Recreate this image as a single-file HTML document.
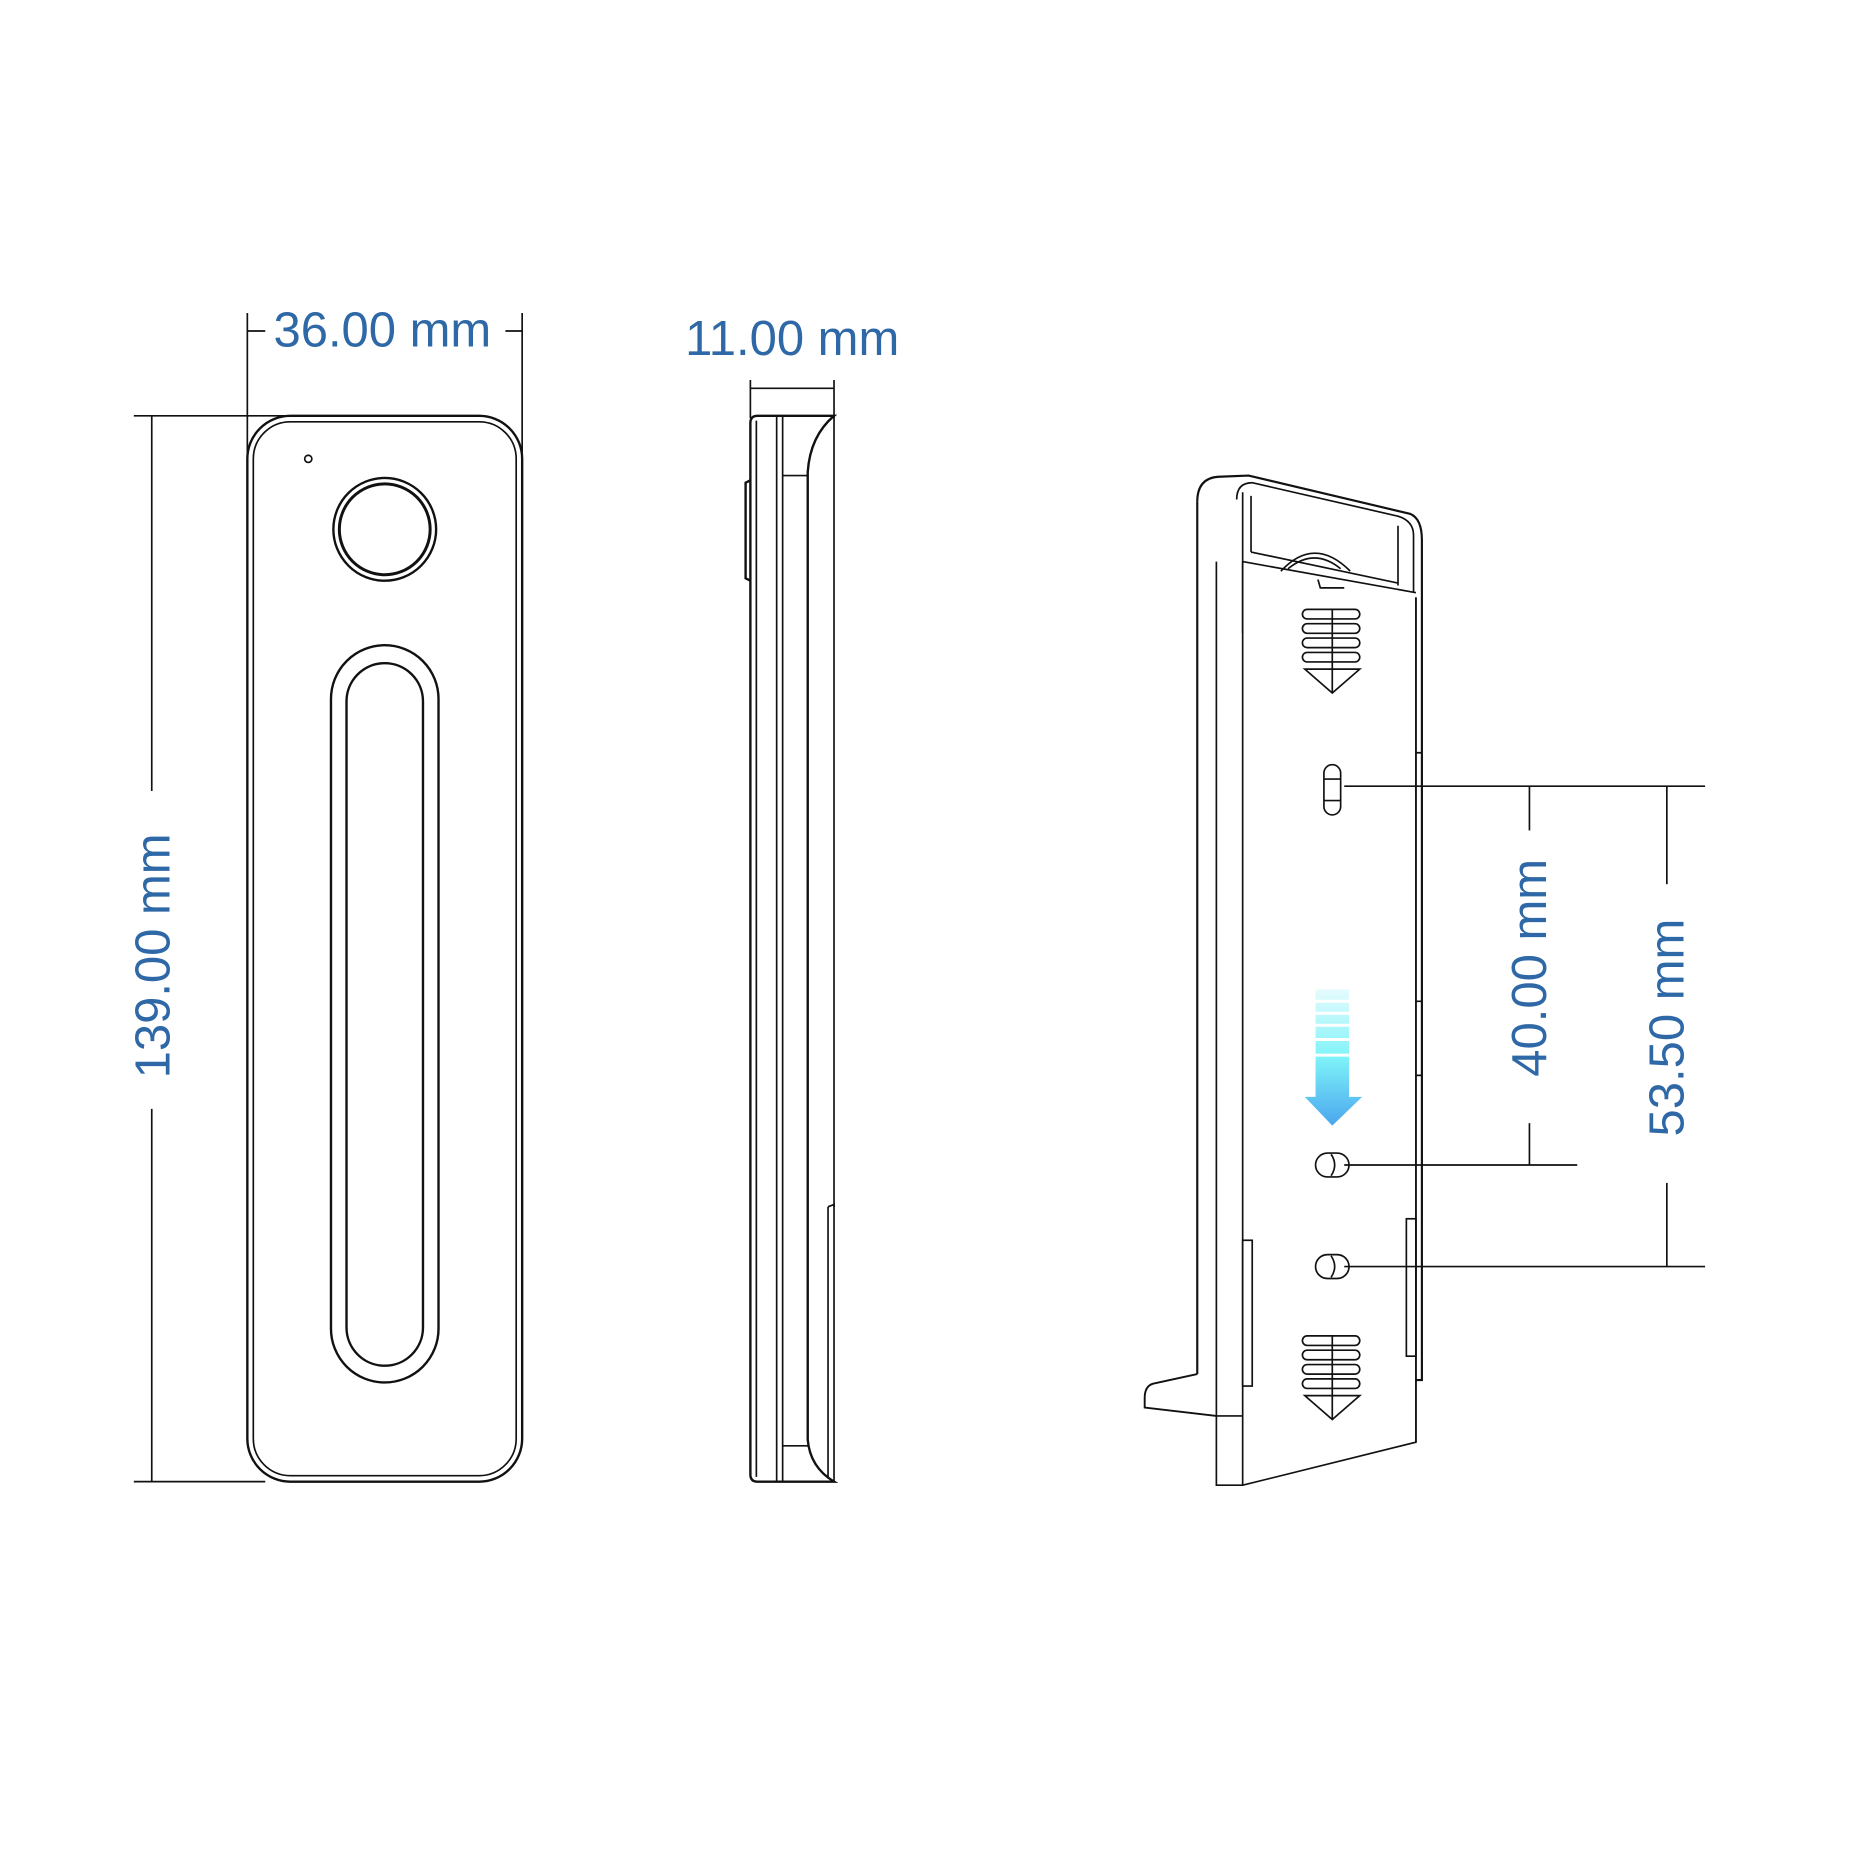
<!DOCTYPE html>
<html><head><meta charset="utf-8"><style>
html,body{margin:0;padding:0;background:#fff;}
svg{display:block;}
text{font-family:"Liberation Sans",Arial,sans-serif;fill:#2f68a6;font-size:41px;}
</style></head><body>
<svg width="1864" height="1864" viewBox="0 0 1560 1560" xmlns="http://www.w3.org/2000/svg">
<defs>
<linearGradient id="g" x1="0" y1="0" x2="0" y2="1">
<stop offset="0" stop-color="#e6fbfd"/><stop offset="0.5" stop-color="#7ef3f8"/><stop offset="1" stop-color="#4aa6ee"/>
</linearGradient>
</defs>
<g fill="none" stroke="#111" stroke-width="1.4">
<!-- left view dims -->
<line x1="207" y1="262" x2="207" y2="385"/>
<line x1="437" y1="262" x2="437" y2="385"/>
<line x1="207" y1="277" x2="222" y2="277"/>
<line x1="423" y1="277" x2="437" y2="277"/>
<line x1="112" y1="348" x2="240" y2="348"/>
<line x1="112" y1="1240" x2="222" y2="1240"/>
<line x1="127" y1="348" x2="127" y2="662"/>
<line x1="127" y1="928" x2="127" y2="1240"/>
<!-- left body -->
<rect x="207" y="348" width="230" height="892" rx="36" stroke-width="2"/>
<rect x="212" y="353" width="220" height="882" rx="31"/>
<circle cx="258" cy="384" r="3"/>
<circle cx="322" cy="443" r="43" stroke-width="2"/>
<circle cx="322" cy="443" r="38" stroke-width="2.5"/>
<rect x="277" y="540" width="90" height="617" rx="45" stroke-width="2"/>
<rect x="290" y="555" width="64" height="588" rx="32" stroke-width="2"/>
<!-- side view -->
<line x1="628" y1="318" x2="628" y2="350"/>
<line x1="698" y1="318" x2="698" y2="350"/>
<line x1="628" y1="325" x2="698" y2="325"/>
<path d="M634 348 L698 348 Q678 365 676 395 L676 1205 Q678 1228 698 1240 L634 1240 Q628 1240 628 1234 L628 354 Q628 348 634 348 Z" stroke-width="2"/>
<line x1="633" y1="352" x2="633" y2="1236"/>
<line x1="650" y1="348" x2="650" y2="1240"/>
<line x1="655" y1="348" x2="655" y2="1240"/>
<line x1="655" y1="398" x2="676" y2="398"/>
<line x1="655" y1="1210" x2="676" y2="1210"/>
<line x1="698" y1="348" x2="698" y2="1010"/>
<path d="M693 1010 L698 1008 L698 1240"/>
<line x1="693" y1="1010" x2="693" y2="1236"/>
<path d="M628 402 L624 404 L624 484 L628 486" stroke-width="2"/>
<!-- right view -->
<path d="M1002 420 Q1002 400 1020 399 L1045 398 L1180 430 Q1190 434 1190 452 L1190 1155 L1185 1155" stroke-width="1.8"/>
<line x1="1002" y1="420" x2="1002" y2="1150" stroke-width="1.8"/>
<path d="M1002 1150 L965 1158 Q958 1160 958 1170 L958 1178 L1018 1185" stroke-width="1.6"/>
<path d="M1035 418 Q1035 404 1048 404 L1170 432 Q1183 436 1183 448 L1183 495"/>
<line x1="1040" y1="412" x2="1040" y2="530"/>
<line x1="1047" y1="415" x2="1047" y2="462"/>
<line x1="1047" y1="462" x2="1170" y2="488"/>
<line x1="1040" y1="470" x2="1185" y2="496"/>
<line x1="1170" y1="440" x2="1170" y2="490"/>
<path d="M1018 470 L1018 1243 L1040 1243 L1185 1207 L1185 500"/>
<line x1="1040" y1="470" x2="1040" y2="1243"/>
<line x1="1185" y1="500" x2="1185" y2="1207"/>
<path d="M1185 630 L1190 630 M1185 838 L1190 838 M1185 900 L1190 900"/>
<rect x="1040" y="1038" width="8" height="122"/>
<rect x="1177" y="1020" width="8" height="115"/>
<line x1="1018" y1="1185" x2="1040" y2="1185"/>
<path d="M1072 478 Q1100 448 1130 478 M1078 476 Q1100 458 1122 476 M1103 485 L1105 492 L1125 492"/>
<!-- vents -->
<g id="v">
<rect x="1090" y="510" width="48" height="8" rx="4"/>
<rect x="1090" y="522" width="48" height="8" rx="4"/>
<rect x="1090" y="534" width="48" height="8" rx="4"/>
<rect x="1090" y="546" width="48" height="8" rx="4"/>
<path d="M1092 560 L1138 560 L1115 580 Z"/>
<line x1="1115" y1="510" x2="1115" y2="580"/>
</g>
<use href="#v" transform="translate(0,608)"/>
<!-- holes -->
<rect x="1108" y="640" width="14" height="42" rx="7"/>
<line x1="1108" y1="652" x2="1122" y2="652"/><line x1="1108" y1="670" x2="1122" y2="670"/>
<rect x="1101" y="965" width="28" height="20" rx="10"/>
<path d="M1114 966 Q1120 975 1114 984"/>
<rect x="1101" y="1050" width="28" height="20" rx="10"/>
<path d="M1114 1051 Q1120 1060 1114 1069"/>
<!-- right dims -->
<line x1="1125" y1="658" x2="1427" y2="658"/>
<line x1="1125" y1="975" x2="1320" y2="975"/>
<line x1="1125" y1="1060" x2="1427" y2="1060"/>
<line x1="1280" y1="658" x2="1280" y2="695"/>
<line x1="1280" y1="940" x2="1280" y2="975"/>
<line x1="1395" y1="658" x2="1395" y2="740"/>
<line x1="1395" y1="990" x2="1395" y2="1060"/>
</g>
<path d="M1101 828 H1129 V918 H1140 L1115 942 L1092 918 H1101 Z" fill="url(#g)"/>
<g stroke="#fff" stroke-width="2.5"><line x1="1098" y1="838" x2="1132" y2="838"/><line x1="1098" y1="848" x2="1132" y2="848"/><line x1="1098" y1="858" x2="1132" y2="858"/><line x1="1098" y1="870" x2="1132" y2="870"/><line x1="1098" y1="883" x2="1132" y2="883"/></g>
<text x="320" y="290" text-anchor="middle">36.00 mm</text>
<text x="663" y="297" text-anchor="middle">11.00 mm</text>
<text transform="translate(142,800) rotate(-90)" text-anchor="middle">139.00 mm</text>
<text transform="translate(1294,810) rotate(-90)" text-anchor="middle">40.00 mm</text>
<text transform="translate(1409,860) rotate(-90)" text-anchor="middle">53.50 mm</text>
</svg>
</body></html>
